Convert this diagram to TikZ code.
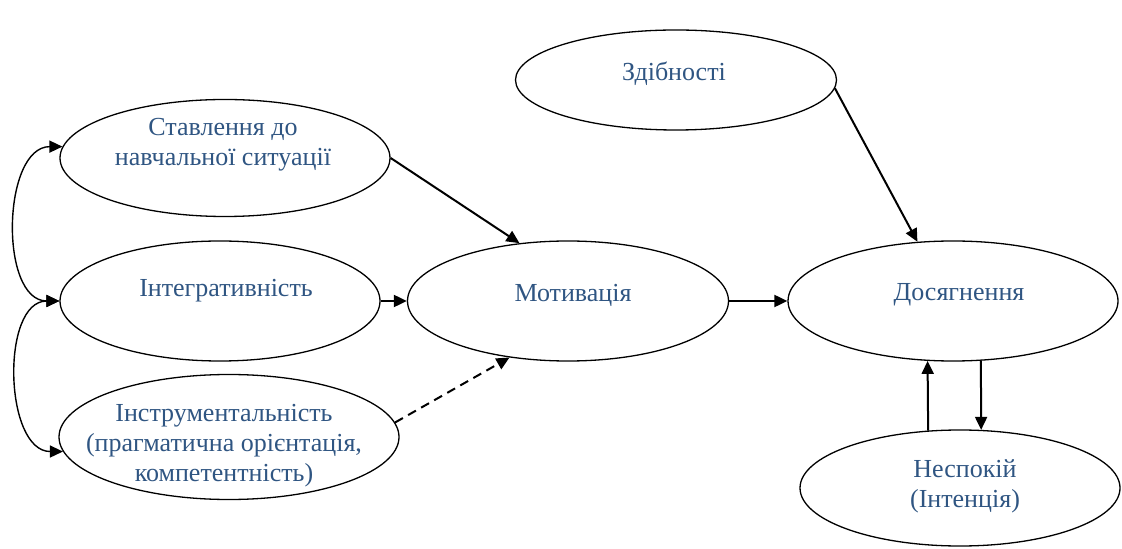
\documentclass[tikz,border=0pt]{standalone}
\usepackage{fontspec}
\setmainfont{Liberation Serif}
\usepackage{xcolor}
\usetikzlibrary{arrows.meta, positioning, shapes.geometric, calc}
\definecolor{textblue}{RGB}{47,85,130}

\begin{document}
\begin{tikzpicture}[x=0.5pt, y=-0.5pt,
    factor/.style={draw, ellipse, line width=0.65pt, inner sep=0pt},
    caption/.style={align=center, text=textblue, font=\fontsize{13}{15}\selectfont},
    arrow/.style={-{Triangle[length=6.5pt,width=6pt]}, line width=1pt},
    link/.style={{Triangle[length=6.5pt,width=6pt]}-{Triangle[length=6.5pt,width=6pt]}, line width=0.7pt}
]
    \useasboundingbox (0,0) rectangle (1122,549);

    % Factors
    \node[factor, minimum width=165pt, minimum height=58.5pt] (st) at (225,158) {};
    \node[factor, minimum width=160pt, minimum height=60pt] (ig) at (220,301) {};
    \node[factor, minimum width=170pt, minimum height=62.5pt] (ins) at (229,437) {};
    \node[factor, minimum width=160.5pt, minimum height=60pt] (mot) at (568,301) {};
    \node[factor, minimum width=165pt, minimum height=60pt] (dos) at (953,301) {};
    \node[factor, minimum width=160.5pt, minimum height=50pt] (zd) at (676,80) {};
    \node[factor, minimum width=160pt, minimum height=58pt] (nes) at (960,488) {};

    % Captions
    \node[caption] (st-t) at (223,145) {Ставлення до\\навчальної ситуації};
    \node[caption] (ig-t) at (226,291) {Інтегративність};
    \node[caption] (ins-t) at (224,446) {Інструментальність\\(прагматична орієнтація,\\компетентність)};
    \node[caption] (mot-t) at (573,295) {Мотивація};
    \node[caption] (dos-t) at (959,295) {Досягнення};
    \node[caption] (zd-t) at (674,74) {Здібності};
    \node[caption] (nes-t) at (965,486) {Неспокій\\(Інтенція)};

    % Links between orientations
    \draw[link] (st.176) to[out=180, in=180, looseness=1] (ig.west);
    \draw[link] (ig.west) to[out=180, in=180, looseness=1] (ins.185);

    % Paths
    \draw[arrow] (st.east) -- (mot.130);
    \draw[arrow] (ig.east) -- (mot.west);
    \draw[arrow, dash pattern=on 4.5pt off 3pt] (ins.5) -- (mot.224);
    \draw[arrow] (mot.east) -- (dos.west);
    \draw[arrow] (zd.-3) -- (dos.121);
    \draw[arrow] (dos.-65.5) -- (nes.70.8);
    \draw[arrow] (nes.119.4) -- (dos.247.1);
\end{tikzpicture}
\end{document}
